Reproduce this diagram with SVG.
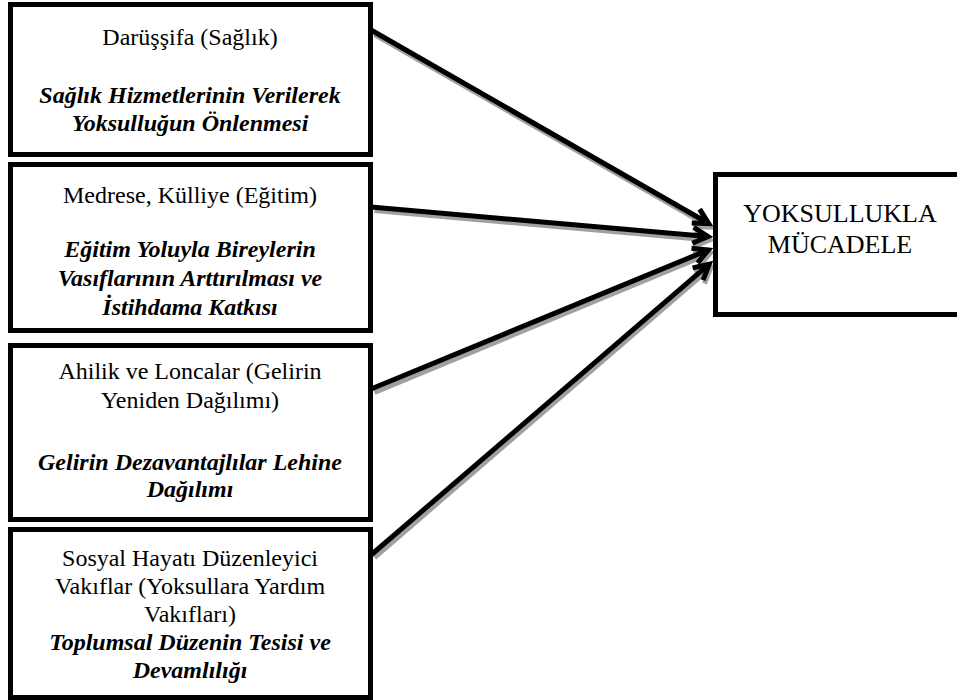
<svg xmlns="http://www.w3.org/2000/svg" width="957" height="700" viewBox="0 0 957 700">
<defs>
<style>
.box{fill:#fff;stroke:#000;stroke-width:5}
.t{font-family:'Liberation Serif',serif;font-size:24px;fill:#000;text-anchor:middle}
.b{font-weight:bold;font-style:italic}
.big{font-size:26px}
.ln{fill:none;stroke:#000;stroke-width:5}
.sh{fill:none;stroke:#a0a0a0;stroke-width:5}
</style>
<marker id="ah" markerUnits="userSpaceOnUse" markerWidth="40" markerHeight="40" refX="0" refY="0" viewBox="-30 -20 40 40" orient="auto" overflow="visible">
<path d="M-15,-8 L0,0 L-15,8" fill="none" stroke="#000" stroke-width="5"/>
</marker>
<marker id="ahs" markerUnits="userSpaceOnUse" markerWidth="40" markerHeight="40" refX="0" refY="0" viewBox="-30 -20 40 40" orient="auto" overflow="visible">
<path d="M-15,-8 L0,0 L-15,8" fill="none" stroke="#a0a0a0" stroke-width="5"/>
</marker>
</defs>
<rect width="957" height="700" fill="#fff"/>
<g id="connectors">
<g transform="translate(1.5,3.5)">
<line class="sh" x1="373" y1="31" x2="708.7" y2="223.5" marker-end="url(#ahs)"/>
<line class="sh" x1="373" y1="207" x2="708" y2="236.6" marker-end="url(#ahs)"/>
<line class="sh" x1="373" y1="389" x2="708.4" y2="249.9" marker-end="url(#ahs)"/>
<line class="sh" x1="373" y1="554" x2="709.2" y2="264.2" marker-end="url(#ahs)"/>
</g>
<line class="ln" x1="371" y1="30" x2="708.7" y2="223.5" marker-end="url(#ah)"/>
<line class="ln" x1="371" y1="207" x2="708" y2="236.6" marker-end="url(#ah)"/>
<line class="ln" x1="371" y1="389" x2="708.4" y2="249.9" marker-end="url(#ah)"/>
<line class="ln" x1="371" y1="555" x2="709.2" y2="264.2" marker-end="url(#ah)"/>
</g>
<g id="node-darussifa">
<rect class="box" x="10.5" y="4.5" width="360" height="150"/>
<text class="t" x="190" y="45">Darüşşifa (Sağlık)</text>
<text class="t b" x="190" y="103">Sağlık Hizmetlerinin Verilerek</text>
<text class="t b" x="190" y="131">Yoksulluğun Önlenmesi</text>
</g>
<g id="node-medrese">
<rect class="box" x="10.5" y="164.5" width="360" height="166"/>
<text class="t" x="190" y="203">Medrese, Külliye (Eğitim)</text>
<text class="t b" x="190" y="257">Eğitim Yoluyla Bireylerin</text>
<text class="t b" x="190" y="286">Vasıflarının Arttırılması ve</text>
<text class="t b" x="190" y="315">İstihdama Katkısı</text>
</g>
<g id="node-ahilik">
<rect class="box" x="10.5" y="345.5" width="360" height="174"/>
<text class="t" x="190" y="379">Ahilik ve Loncalar (Gelirin</text>
<text class="t" x="190" y="408">Yeniden Dağılımı)</text>
<text class="t b" x="190" y="470">Gelirin Dezavantajlılar Lehine</text>
<text class="t b" x="190" y="497">Dağılımı</text>
</g>
<g id="node-vakiflar">
<rect class="box" x="10.5" y="529.5" width="360" height="168"/>
<text class="t" x="190" y="566">Sosyal Hayatı Düzenleyici</text>
<text class="t" x="190" y="594">Vakıflar (Yoksullara Yardım</text>
<text class="t" x="190" y="622">Vakıfları)</text>
<text class="t b" x="190" y="650">Toplumsal Düzenin Tesisi ve</text>
<text class="t b" x="190" y="678">Devamlılığı</text>
</g>
<g id="node-yoksulluk">
<rect class="box" x="715.5" y="174.5" width="252" height="140"/>
<text class="t big" x="840" y="222">YOKSULLUKLA</text>
<text class="t big" x="840" y="253">MÜCADELE</text>
</g>
</svg>
